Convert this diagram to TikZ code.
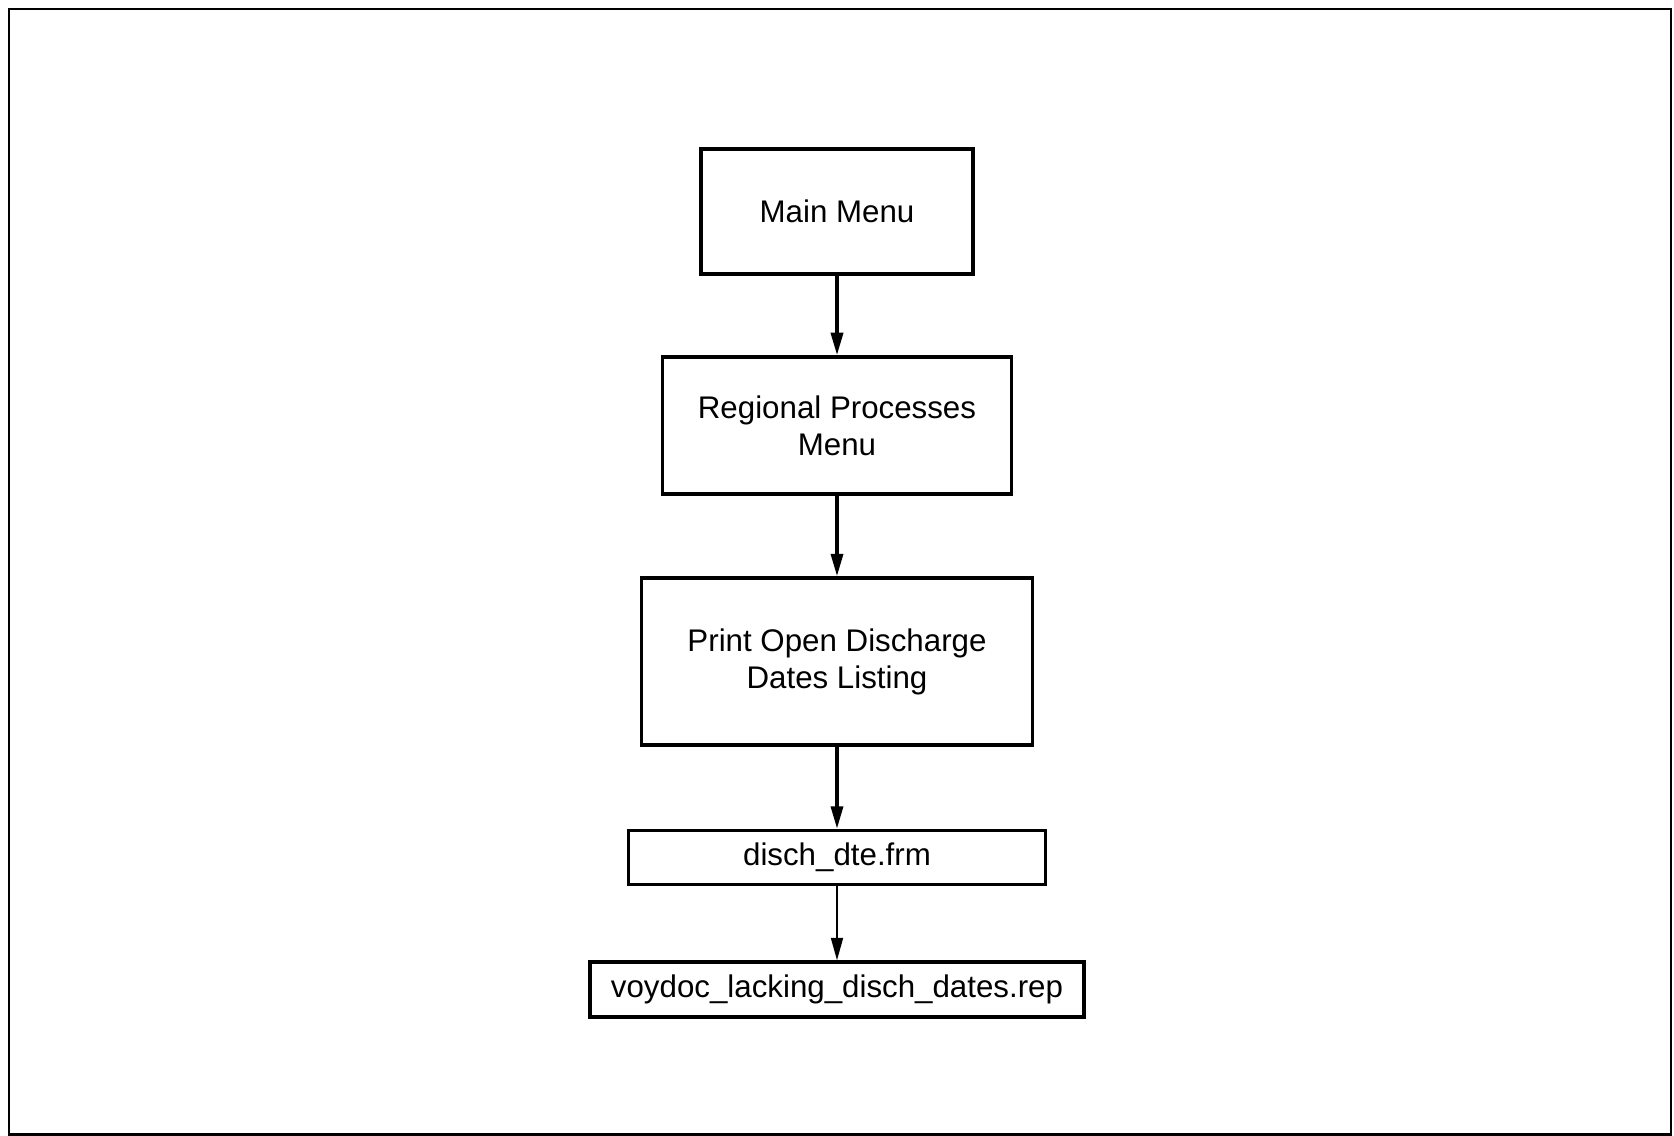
\documentclass[tikz,border=0pt]{standalone}
\usepackage{fontspec}
\setmainfont{Liberation Sans}
\usetikzlibrary{arrows.meta,positioning}

\begin{document}
\begin{tikzpicture}[
    node distance=16mm,
    box/.style={draw, line width=2pt, align=center, inner sep=1mm,
                font=\fontsize{17.8}{21}\selectfont},
    arrow/.style={-{Triangle[length=4.5mm,width=2.4mm]}, line width=2pt},
    thinarrow/.style={-{Triangle[length=4.5mm,width=2.4mm]}, line width=1.1pt}
]
\useasboundingbox (0,0) rectangle (33.48,22.72);
\draw[line width=1.2pt] (0.18,0.03) rectangle (33.42,22.54);

\node[box, minimum width=54.4mm, minimum height=25mm] (mainmenu) at (16.74,18.49)
    {Main Menu};
\node[box, minimum width=69.8mm, minimum height=27.4mm, below=15.9mm of mainmenu] (regional)
    {Regional Processes\\Menu};
\node[box, minimum width=78.2mm, minimum height=33.4mm, below=16.1mm of regional] (printopen)
    {Print Open Discharge\\Dates Listing};
\node[box, minimum width=83.4mm, minimum height=10.8mm, below=16.4mm of printopen] (dischfrm)
    {disch\_dte.frm};
\node[box, minimum width=98.8mm, minimum height=11mm, below=14.8mm of dischfrm] (voydoc)
    {voydoc\_lacking\_disch\_dates.rep};

\draw[arrow] (mainmenu) -- (regional);
\draw[arrow] (regional) -- (printopen);
\draw[arrow] (printopen) -- (dischfrm);
\draw[thinarrow] (dischfrm) -- (voydoc);

\end{tikzpicture}
\end{document}
